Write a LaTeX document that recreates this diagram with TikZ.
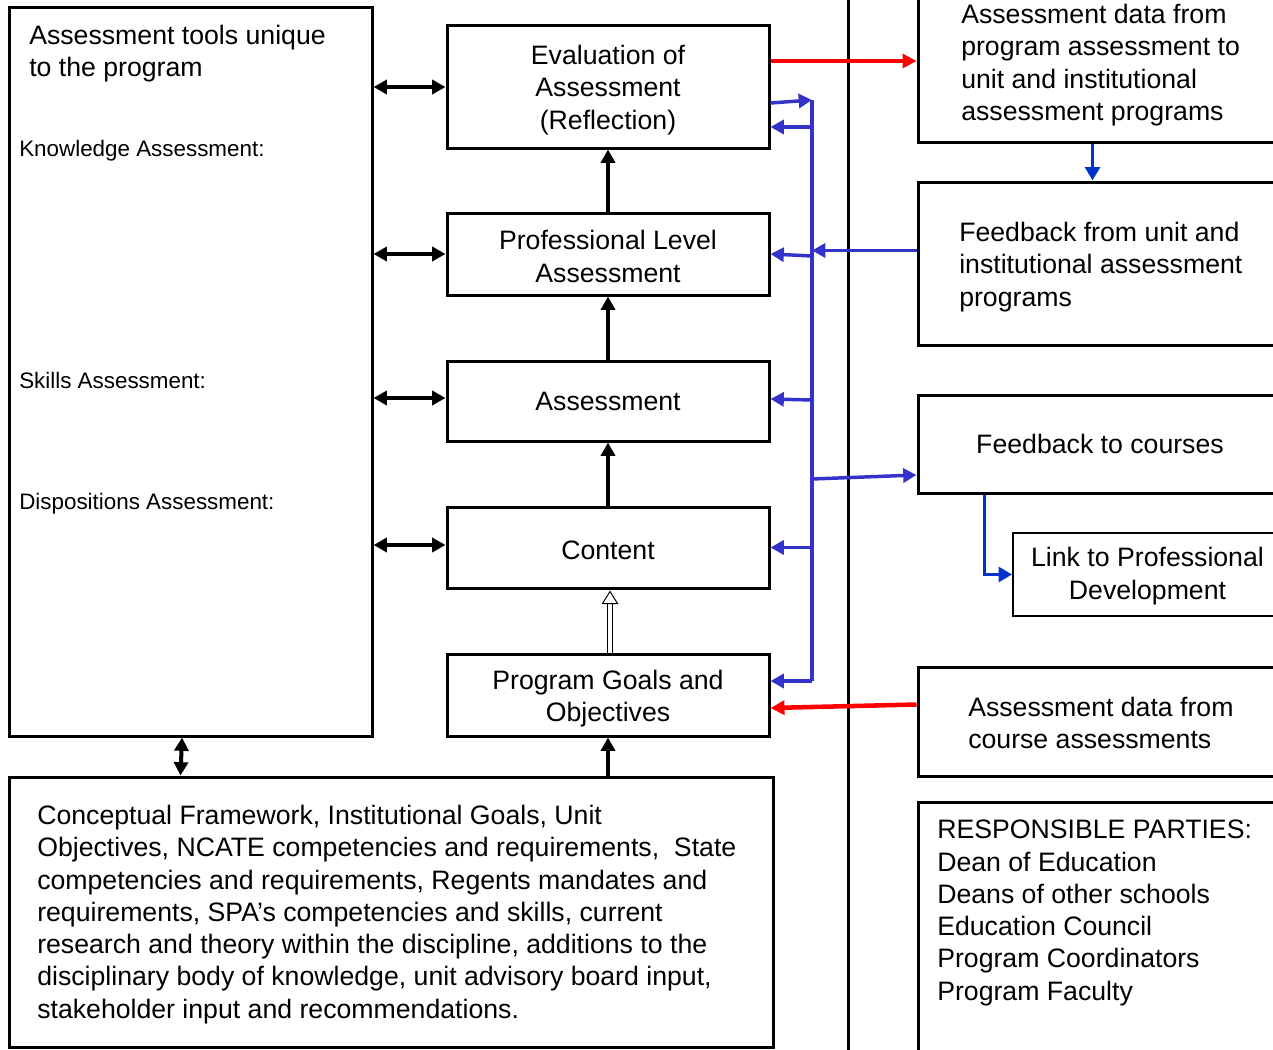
\documentclass[tikz,border=0pt]{standalone}
\usepackage{fontspec}
\setmainfont{Liberation Sans}
\usetikzlibrary{arrows.meta,calc}
\definecolor{busblue}{RGB}{51,51,204}
\definecolor{linkblue}{RGB}{0,51,204}
\definecolor{datared}{RGB}{255,0,0}
\begin{document}
\begin{tikzpicture}[x=0.75pt,y=-0.75pt,
  mainfont/.style={font=\fontsize{20pt}{24.2pt}\selectfont},
  smallfont/.style={font=\fontsize{16.8pt}{20pt}\selectfont},
  frame/.style={draw, line width=2.25pt, inner sep=0pt},
  stage/.style={frame, mainfont, align=center, minimum width=241.5pt},
  txt/.style={mainfont, align=left, inner sep=0pt, anchor=north west},
  smalltxt/.style={smallfont, align=left, inner sep=0pt, anchor=north west},
  uparrow/.style={line width=3pt, -{Triangle[length=10pt,width=10.5pt]}},
  twoway/.style={line width=3pt, {Triangle[length=10pt,width=10.5pt]}-{Triangle[length=10pt,width=10.5pt]}},
  busline/.style={draw=busblue, line width=2.6pt},
  busarrow/.style={busline, -{Triangle[length=10pt,width=10.5pt]}},
  redarrow/.style={draw=datared, line width=3.4pt, -{Triangle[length=10.5pt,width=10.5pt]}},
  linkarrow/.style={draw=linkblue, line width=2.8pt, -{Triangle[length=10pt,width=11pt]}}
]
\useasboundingbox (0,0) rectangle (1273,1049);
\clip (0,0) rectangle (1273,1049);

% divider between program side and unit side
\coordinate (divtop) at (848,-5);
\coordinate (divbot) at (848,1055);
\draw[line width=2.25pt] (divtop) -- (divbot);

% left: program assessment tools
\node[frame, minimum width=272.25pt, minimum height=546pt] (tools) at (190.5,372) {};
\node[txt] (t-tools) at (29,25) {Assessment tools unique\\to the program};
\node[smalltxt] (t-know) at (19,140) {Knowledge Assessment:};
\node[smalltxt] (t-skill) at (19,372) {Skills Assessment:};
\node[smalltxt] (t-disp) at (19,493) {Dispositions Assessment:};

% centre column: assessment cycle (first-line struts set the text slightly low)
\node[stage, minimum height=91.5pt] (eval) at (608,87) {\rule{0pt}{19pt}Evaluation of\\Assessment\\(Reflection)};
\node[stage, minimum height=61.5pt] (prof) at (608,254) {\rule{0pt}{18pt}Professional Level\\Assessment};
\node[stage, minimum height=60pt] (assess) at (608,401) {Assessment};
\node[stage, minimum height=60.75pt] (content) at (608,547.5) {\rule{0pt}{18pt}Content};
\node[stage, minimum height=61.5pt] (goals) at (608,695) {\rule{0pt}{20pt}Program Goals and\\Objectives};

% bottom: sources of goals
\node[frame, minimum width=573pt, minimum height=202.5pt] (base) at (391,912) {};
\node[txt] (t-base) at (37,805) {Conceptual Framework, Institutional Goals, Unit\\
Objectives, NCATE competencies and requirements,~ State\\
competencies and requirements, Regents mandates and\\
requirements, SPA’s competencies and skills, current\\
research and theory within the discipline, additions to the\\
disciplinary body of knowledge, unit advisory board input,\\
stakeholder input and recommendations.};

% right column: unit side
\node[frame, minimum width=273pt, minimum height=114pt] (rdata) at (1100,66) {};
\node[txt] (t-rdata) at (961,4) {Assessment data from\\program assessment to\\unit and institutional\\assessment programs};
\node[frame, minimum width=273pt, minimum height=122.25pt] (rfeed) at (1100,263.5) {};
\node[txt] (t-rfeed) at (959,222) {Feedback from unit and\\institutional assessment\\programs};
\node[frame, mainfont, minimum width=273pt, minimum height=73.5pt] (rcourses) at (1100,444) {Feedback to courses};
\node[draw, line width=1.5pt, inner sep=0pt, mainfont, align=center, minimum width=201.75pt, minimum height=62.25pt] (rlink) at (1147.5,574.5) {\rule{0pt}{17pt}Link to Professional\\Development};
\node[frame, minimum width=273pt, minimum height=81.75pt] (rcdata) at (1100,721.5) {};
\node[txt] (t-rcdata) at (968,697) {Assessment data from\\course assessments};
\node[frame, minimum width=273pt, minimum height=193.5pt] (rparties) at (1100,931) {};
\node[txt] (t-rparties) at (937,820) {RESPONSIBLE PARTIES:\\Dean of Education\\Deans of other schools\\Education Council\\Program Coordinators\\Program Faculty};

% upward flow through the cycle
\draw[uparrow] (prof.north) -- (eval.south);
\draw[uparrow] (assess.north) -- (prof.south);
\draw[uparrow] (content.north) -- (assess.south);
\draw[uparrow] (goals.south |- base.north) -- (goals.south);

% hollow double arrow from goals to content
\coordinate (hollowtip) at ($(content.south)+(2,2)$);
\draw[line width=0.75pt, double distance=3.5pt] ($(goals.north)+(2,0)$) -- ($(content.south)+(2,14)$);
\draw[line width=0.75pt, fill=white] (hollowtip) -- ++(-7.5,12) -- ++(15,0) -- cycle;

% two-way links between tools and stages
\draw[twoway] (tools.east |- eval.west) -- (eval.west);
\draw[twoway] (tools.east |- prof.west) -- (prof.west);
\draw[twoway] (tools.east |- 0,398) -- (assess.west |- 0,398);
\draw[twoway] (tools.east |- 0,545) -- (content.west |- 0,545);
\draw[twoway] ($(tools.south)+(-8.5,0)$) -- ($(base.north west)+(173,0)$);

% blue feedback bus
\coordinate (bustop) at (812,100);
\coordinate (busbot) at (812,681);
\coordinate (busout) at (812,479);
\draw[busline] (bustop) -- (busbot);
\draw[busarrow] ($(eval.east)+(0,16)$) -- (bustop);
\draw[busarrow] ($(bustop)+(0,27)$) -- ($(eval.east)+(0,40)$);
\draw[busarrow] ($(rfeed.west)+(0,-13)$) -- (bustop |- 0,250.5);
\draw[busarrow] (bustop |- 0,256) -- (prof.east);
\draw[busarrow] (bustop |- 0,400) -- ($(assess.east)+(0,-2)$);
\draw[busarrow] (busout) -- ($(rcourses.west)+(0,31)$);
\draw[busarrow] (bustop |- content.east) -- (content.east);
\draw[busarrow] (busbot) -- (goals.east |- busbot);

% assessment data flows
\draw[redarrow] ($(eval.east)+(0,-26)$) -- (rdata.west |- 0,61);
\draw[redarrow] ($(rcdata.west)+(0,-17)$) -- ($(goals.east)+(0,13)$);

% unit-side links
\draw[linkarrow] ($(rdata.south west)+(176,0)$) -- ($(rfeed.north west)+(176,0)$);
\draw[linkarrow] ($(rcourses.south west)+(68,0)$) |- (rlink.west);
\end{tikzpicture}
\end{document}
